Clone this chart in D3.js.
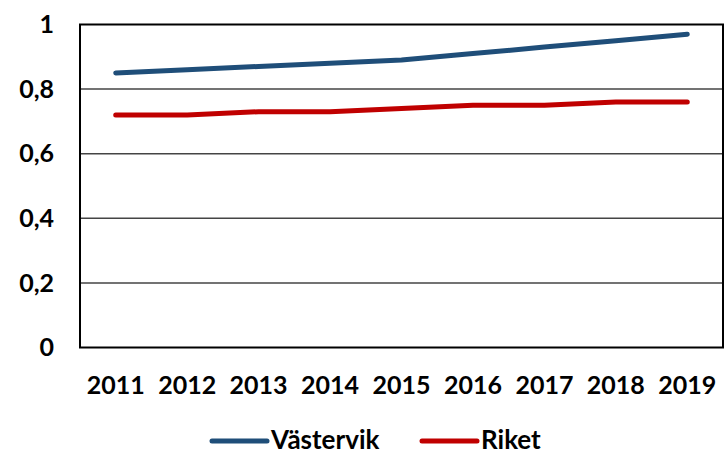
<!DOCTYPE html>
<html>
<head>
<meta charset="utf-8">
<script src="https://cdn.jsdelivr.net/npm/d3@7"></script>
<style>
  body { margin: 0; background: #fff; }
  text { font-family: Lato, "Open Sans", sans-serif; font-weight: 700; fill: #000; }
</style>
</head>
<body>
<svg id="chart" width="725" height="456"></svg>
<script>
var years = ["2011", "2012", "2013", "2014", "2015", "2016", "2017", "2018", "2019"];
var vastervik = [0.85, 0.86, 0.87, 0.88, 0.89, 0.91, 0.93, 0.95, 0.97];
var riket = [0.72, 0.72, 0.73, 0.73, 0.74, 0.75, 0.75, 0.76, 0.76];
var yTicks = [0, 0.2, 0.4, 0.6, 0.8, 1];
var seriesNames = ["Västervik", "Riket"];
var colors = ["#1F4E79", "#C00000"];

var svg = d3.select("#chart");
var plotLeft = 80, plotRight = 723, plotTop = 24.5, plotBottom = 347.5;

var x = d3.scaleBand().domain(years).range([plotLeft, plotRight]);
var y = d3.scaleLinear().domain([0, 1]).range([plotBottom, plotTop]);
var fmt = function(d) { return String(d).replace(".", ","); };

// gridlines
svg.append("g").selectAll("line")
    .data(yTicks.filter(function(d) { return d > 0 && d < 1; }))
    .enter().append("line")
    .attr("x1", plotLeft).attr("x2", plotRight)
    .attr("y1", function(d) { return y(d); })
    .attr("y2", function(d) { return y(d); })
    .attr("stroke", "#444").attr("stroke-width", 1.5);

// plot border
svg.append("rect")
    .attr("x", plotLeft).attr("y", plotTop)
    .attr("width", plotRight - plotLeft).attr("height", plotBottom - plotTop)
    .attr("fill", "none").attr("stroke", "#000").attr("stroke-width", 2);

// y labels
svg.append("g").selectAll("text")
    .data(yTicks).enter().append("text")
    .attr("x", 54).attr("y", function(d) { return y(d); })
    .attr("dy", "0.35em").attr("text-anchor", "end")
    .attr("font-size", 25)
    .text(fmt);

// x labels
svg.append("g").selectAll("text")
    .data(years).enter().append("text")
    .attr("x", function(d) { return x(d) + x.bandwidth() / 2; })
    .attr("y", 394).attr("text-anchor", "middle")
    .attr("font-size", 25)
    .text(function(d) { return d; });

// lines
var line = d3.line()
    .x(function(d, i) { return x(years[i]) + x.bandwidth() / 2; })
    .y(function(d) { return y(d); });

[vastervik, riket].forEach(function(s, i) {
    svg.append("path")
        .datum(s)
        .attr("d", line)
        .attr("fill", "none")
        .attr("stroke", colors[i])
        .attr("stroke-width", 5)
        .attr("stroke-linecap", "round")
        .attr("stroke-linejoin", "round");
});

// legend
var legendX = [212, 422];
seriesNames.forEach(function(name, i) {
    var g = svg.append("g").attr("transform", "translate(" + legendX[i] + ",441)");
    g.append("line").attr("x1", 0).attr("x2", 55)
        .attr("stroke", colors[i]).attr("stroke-width", 5)
        .attr("stroke-linecap", "round");
    g.append("text").attr("x", 59).attr("y", 8)
        .attr("font-size", 26).text(name);
});
</script>
</body>
</html>
